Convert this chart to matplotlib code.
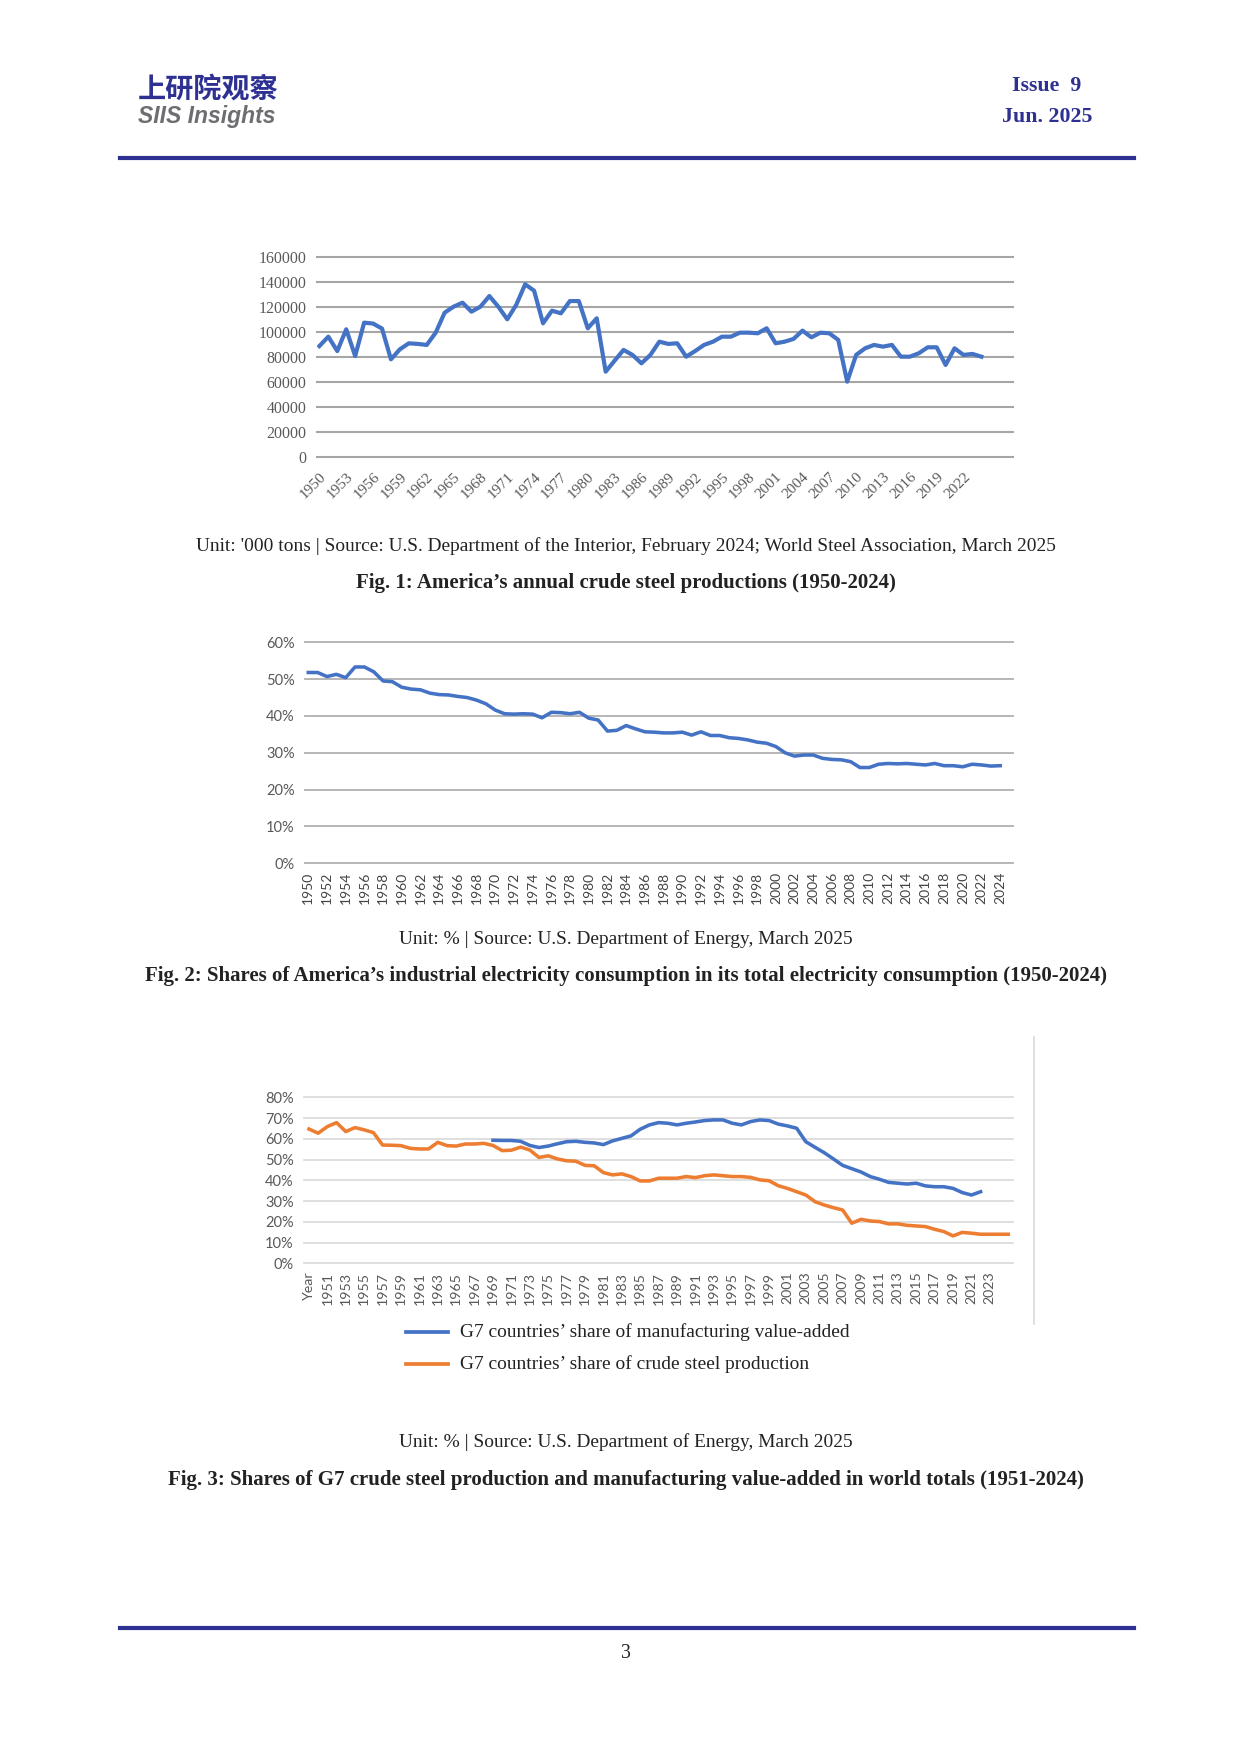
import numpy as np
import matplotlib
matplotlib.use('Agg')
import matplotlib.pyplot as plt
from matplotlib.lines import Line2D

#-----------------------------------------------------------------
#                            1  Data
#-----------------------------------------------------------------

# Fig. 1: US crude steel production, '000 tons
steel_years = list(range(1950, 2025))
steel_us = [89000, 96500, 85000, 102400, 81000,
            107700, 107000, 103000, 78400, 86400,
            91200, 90700, 89900, 99700, 115700,
            120500, 123700, 116500, 120500, 129000,
            120500, 110400, 121900, 138400, 133300,
            107200, 117300, 115200, 125000, 125000,
            103200, 111200, 68500, 77300, 85900,
            81900, 75200, 81900, 92500, 90700,
            91200, 80500, 85000, 89900, 92500,
            96500, 96500, 99700, 99700, 99200,
            103200, 91200, 92500, 94700, 101300,
            96000, 99700, 99200, 93900, 60500,
            81900, 87200, 89900, 88500, 89900,
            80500, 80500, 83200, 88000, 88000,
            73900, 87200, 81900, 82700, 80500]
steel_ticks = list(range(1950, 2023, 3))

# Fig. 2: industrial share of US electricity consumption, %
elec_years = list(range(1950, 2025))
elec_share = [51.8, 51.8, 50.7, 51.3, 50.4,
              53.3, 53.3, 52.0, 49.5, 49.3,
              47.8, 47.3, 47.1, 46.2, 45.8,
              45.7, 45.3, 45.0, 44.3, 43.3,
              41.6, 40.6, 40.5, 40.6, 40.5,
              39.5, 41.0, 40.9, 40.6, 41.0,
              39.4, 38.9, 35.9, 36.1, 37.4,
              36.5, 35.7, 35.6, 35.4, 35.4,
              35.6, 34.8, 35.7, 34.7, 34.7,
              34.1, 33.9, 33.5, 32.9, 32.6,
              31.7, 30.0, 29.1, 29.4, 29.4,
              28.5, 28.2, 28.1, 27.6, 26.0,
              26.0, 26.9, 27.1, 27.0, 27.1,
              26.9, 26.7, 27.1, 26.5, 26.5,
              26.2, 26.9, 26.7, 26.4, 26.5]
elec_ticks = list(range(1950, 2025, 2))

# Fig. 3: G7 shares in world totals, % (category axis starts with a "Year" slot)
g7_cats = ['Year'] + [str(y) for y in range(1950, 2026)]
g7_steel = [64.7, 62.7, 65.9, 67.8, 63.5, 65.4, 64.3, 63.0, 57.0, 56.9,
            56.7, 55.4, 55.1, 55.1, 58.3, 56.7, 56.5, 57.5, 57.5, 57.8,
            56.8, 54.3, 54.5, 56.0, 54.6, 51.0, 51.8, 50.3, 49.4, 49.2,
            47.2, 47.0, 43.7, 42.6, 43.1, 41.8, 39.7, 39.7, 41.0, 41.0,
            41.0, 41.8, 41.3, 42.2, 42.6, 42.2, 41.8, 41.8, 41.4, 40.2,
            39.8, 37.4, 36.1, 34.5, 32.9, 29.7, 28.1, 26.8, 25.7, 19.3,
            21.2, 20.4, 20.1, 19.0, 19.0, 18.3, 18.0, 17.7, 16.4, 15.3,
            13.2, 14.9, 14.5, 14.0, 14.0, 14.0, 14.0]
g7_manuf_start = 20   # first category index of the value-added series (1969)
g7_manuf = [59.3, 59.2, 59.2, 58.8, 56.8, 55.8, 56.5, 57.6, 58.6, 58.8,
            58.3, 58.0, 57.2, 59.0, 60.2, 61.4, 64.6, 66.7, 67.8, 67.5,
            66.7, 67.5, 68.1, 68.8, 69.1, 69.1, 67.5, 66.7, 68.3, 69.1,
            68.8, 67.1, 66.2, 65.1, 58.6, 55.9, 53.3, 50.3, 47.2, 45.6,
            44.0, 41.8, 40.5, 39.0, 38.6, 38.2, 38.6, 37.3, 36.9, 36.9,
            36.1, 34.1, 32.9, 34.5]
g7_labels = ["G7 countries\u2019 share of manufacturing value-added",
             "G7 countries\u2019 share of crude steel production"]

#-----------------------------------------------------------------
#                            2  Page
#-----------------------------------------------------------------

W, H, DPI = 1241, 1754, 150
navy = '#2E3192'
blue = '#4472C4'
orange = '#ED7D31'
tickgrey = '#595959'
textcol = '#222222'
serif = 'Liberation Serif'
sans = 'Lato'
unit_size = 9.3
title_size = 10.0

fig = plt.figure(figsize=(W/DPI, H/DPI), dpi=DPI)
fig.patch.set_facecolor('white')

def box(x0, y0, x1, y1):
    return [x0/W, 1-y1/H, (x1-x0)/W, (y1-y0)/H]

def ftext(x, y, s, **kw):
    kw.setdefault('va', 'center')
    return fig.text(x/W, 1-y/H, s, **kw)

def hline(x0, x1, y, **kw):
    fig.add_artist(Line2D([x0/W, x1/W], [1-y/H, 1-y/H], **kw))

def clean(ax):
    for s in ax.spines.values():
        s.set_visible(False)
    ax.tick_params(length=0)
    ax.set_axisbelow(True)
    ax.set_facecolor('none')

# header
ftext(138, 90, '上研院观察', fontsize=13.5, family=['Noto Sans CJK SC', 'DejaVu Sans'],
      weight='bold', color=navy)
ftext(138, 116, 'SIIS Insights', fontsize=11, family='Liberation Sans',
      weight='bold', style='italic', color='#6D6E71')
ftext(1047, 86, 'Issue  9', fontsize=10.5, family=serif, weight='bold',
      color=navy, ha='center')
ftext(1047, 117, 'Jun. 2025', fontsize=10.5, family=serif, weight='bold',
      color=navy, ha='center')
hline(120, 1134, 158, color=navy, lw=2.0)

#-----------------------------------------------------------------
#                            3  Fig. 1
#-----------------------------------------------------------------

ax1 = fig.add_axes(box(316.7, 257.3, 1012.7, 457.3))
ax1.plot(steel_years, steel_us, color=blue, lw=2.0, solid_joinstyle='round')
ax1.set_xlim(1949.7, 2027.5)
ax1.set_ylim(0, 160000)
ax1.set_yticks(range(0, 160001, 20000))
ax1.set_yticklabels(['%d' % v for v in range(0, 160001, 20000)],
                    family=serif, fontsize=7.6, color=tickgrey)
ax1.set_xticks(steel_ticks)
ax1.set_xticklabels([str(y) for y in steel_ticks], family=serif, fontsize=7.4,
                    color=tickgrey, rotation=45, ha='right', va='top',
                    rotation_mode='anchor')
ax1.grid(axis='y', color='#A6A6A6', lw=1.0, clip_on=False)
clean(ax1)
ax1.tick_params(axis='y', pad=5)
ax1.tick_params(axis='x', pad=6)

ftext(626, 546, "Unit: '000 tons | Source: U.S. Department of the Interior, February 2024; "
      "World Steel Association, March 2025", fontsize=unit_size, family=serif,
      color=textcol, ha='center')
ftext(626, 583, "Fig. 1: America\u2019s annual crude steel productions (1950-2024)",
      fontsize=title_size, family=serif, weight='bold', color=textcol, ha='center')

#-----------------------------------------------------------------
#                            4  Fig. 2
#-----------------------------------------------------------------

ax2 = fig.add_axes(box(305, 642.3, 1013.3, 863.3))
ax2.plot(elec_years, elec_share, color=blue, lw=1.7, solid_joinstyle='round')
ax2.set_xlim(1949.65, 2025.4)
ax2.set_ylim(0, 60)
ax2.set_yticks(range(0, 61, 10))
ax2.set_yticklabels(['%d%%' % v for v in range(0, 61, 10)],
                    family=sans, fontsize=7.0, color=tickgrey)
ax2.set_xticks(elec_ticks)
ax2.set_xticklabels([str(y) for y in elec_ticks], family=sans, fontsize=6.7,
                    color='#444444', rotation=90)
ax2.grid(axis='y', color='#B4B4B4', lw=0.9, clip_on=False)
clean(ax2)
ax2.tick_params(axis='y', pad=5)
ax2.tick_params(axis='x', pad=4)

ftext(626, 939, "Unit: % | Source: U.S. Department of Energy, March 2025",
      fontsize=unit_size, family=serif, color=textcol, ha='center')
ftext(626, 976, "Fig. 2: Shares of America\u2019s industrial electricity consumption in its "
      "total electricity consumption (1950-2024)",
      fontsize=title_size, family=serif, weight='bold', color=textcol, ha='center')

#-----------------------------------------------------------------
#                            5  Fig. 3
#-----------------------------------------------------------------

ax3 = fig.add_axes(box(304, 1097.3, 1013.3, 1263.3))
xs = np.arange(len(g7_steel))
xm = np.arange(g7_manuf_start, g7_manuf_start + len(g7_manuf))
ax3.plot(xm, g7_manuf, color=blue, lw=1.7, solid_joinstyle='round', label=g7_labels[0])
ax3.plot(xs, g7_steel, color=orange, lw=1.7, solid_joinstyle='round', label=g7_labels[1])
ax3.set_xlim(-0.54, 76.55)
ax3.set_ylim(0, 80)
ax3.set_yticks(range(0, 81, 10))
ax3.set_yticklabels(['%d%%' % v for v in range(0, 81, 10)],
                    family=sans, fontsize=7.0, color=tickgrey)
tick_idx = list(range(0, len(g7_cats) - 1, 2))
ax3.set_xticks(tick_idx)
ax3.set_xticklabels([g7_cats[i] for i in tick_idx], family=sans, fontsize=6.8,
                    color=tickgrey, rotation=90)
ax3.grid(axis='y', color='#D9D9D9', lw=0.8, clip_on=False)
clean(ax3)
ax3.tick_params(axis='y', pad=5)
ax3.tick_params(axis='x', pad=4)

# chart frame edge and legend
fig.add_artist(Line2D([1034/W, 1034/W], [1-1037/H, 1-1324/H], color='#D9D9D9', lw=0.8))
hline(406, 448, 1332, color=blue, lw=1.8)
hline(406, 448, 1364, color=orange, lw=1.8)
ftext(460, 1332, g7_labels[0], fontsize=9.3, family=serif, color=textcol)
ftext(460, 1364, g7_labels[1], fontsize=9.3, family=serif, color=textcol)

ftext(626, 1442, "Unit: % | Source: U.S. Department of Energy, March 2025",
      fontsize=unit_size, family=serif, color=textcol, ha='center')
ftext(626, 1480, "Fig. 3: Shares of G7 crude steel production and manufacturing "
      "value-added in world totals (1951-2024)",
      fontsize=title_size, family=serif, weight='bold', color=textcol, ha='center')

# footer
hline(120, 1134, 1628, color=navy, lw=2.0)
ftext(626, 1654, '3', fontsize=9.5, family=serif, color=textcol, ha='center')

fig.savefig('out.png', dpi=DPI, facecolor='white')
plt.close()
